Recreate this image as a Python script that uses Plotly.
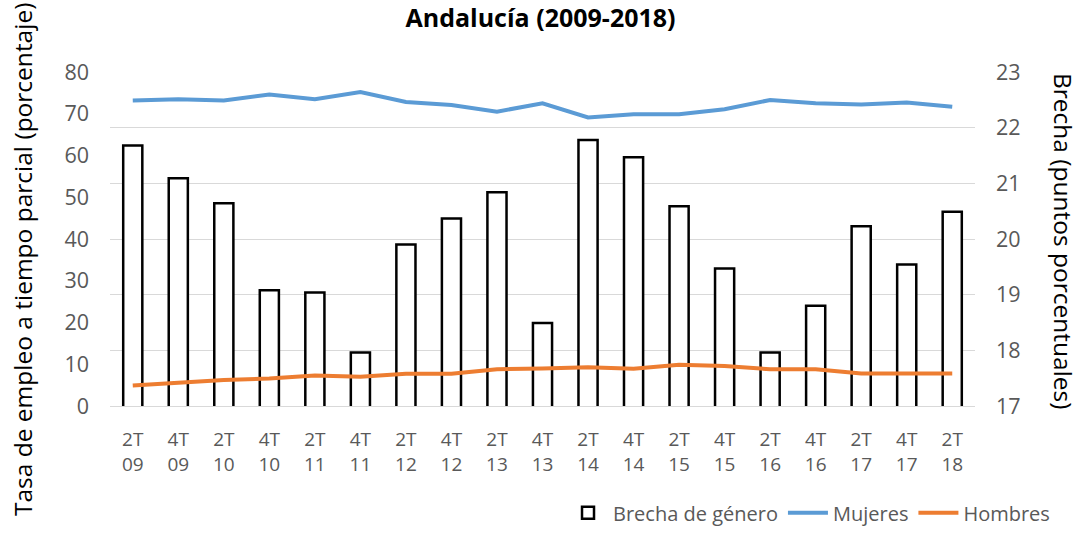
import plotly.graph_objects as go

categories = ["2T<br>09", "4T<br>09", "2T<br>10", "4T<br>10", "2T<br>11", "4T<br>11", "2T<br>12", "4T<br>12",
              "2T<br>13", "4T<br>13", "2T<br>14", "4T<br>14", "2T<br>15", "4T<br>15", "2T<br>16", "4T<br>16",
              "2T<br>17", "4T<br>17", "2T<br>18"]
brecha = [21.68, 21.09, 20.64, 19.08, 19.04, 17.96, 19.90, 20.37, 20.84, 18.49,
          21.78, 21.47, 20.59, 19.47, 17.96, 18.80, 20.23, 19.54, 20.49]
mujeres = [73.2, 73.5, 73.2, 74.6, 73.5, 75.2, 72.8, 72.1, 70.5, 72.5,
           69.1, 69.9, 69.9, 71.1, 73.3, 72.5, 72.2, 72.7, 71.7]
hombres = [4.9, 5.6, 6.2, 6.6, 7.3, 7.0, 7.7, 7.7, 8.8, 9.0,
           9.3, 8.9, 9.9, 9.6, 8.8, 8.8, 7.8, 7.8, 7.8]

FONT = "Open Sans"
GREY = "#595959"

fig = go.Figure()
fig.add_trace(go.Bar(x=categories, y=brecha, name="Brecha de género", yaxis="y",
                     marker=dict(color="white", line=dict(color="black", width=2.5)),
                     width=0.42))
fig.add_trace(go.Scatter(x=categories, y=mujeres, name="Mujeres", yaxis="y2", mode="lines",
                         line=dict(color="#5B9BD5", width=4)))
fig.add_trace(go.Scatter(x=categories, y=hombres, name="Hombres", yaxis="y2", mode="lines",
                         line=dict(color="#ED7D31", width=4)))

fig.update_layout(
    width=1081, height=535,
    margin=dict(l=110, r=106, t=72, b=129, autoexpand=False),
    paper_bgcolor="white", plot_bgcolor="white",
    font=dict(family=FONT, size=18, color=GREY),
    title=dict(text="<b>Andalucía (2009-2018)</b>", x=0.5, xanchor="center", y=0.965, yanchor="middle",
               font=dict(family=FONT, size=25, color="black")),
    showlegend=True,
    legend=dict(orientation="h", x=1.0925, xanchor="right", y=-0.378, yanchor="bottom",
                font=dict(size=20, color=GREY), bgcolor="rgba(0,0,0,0)", itemwidth=40),
    xaxis=dict(showgrid=False, showline=True, linecolor="#d9d9d9", linewidth=1, automargin=False,
               ticks="", tickfont=dict(family=FONT, size=19, color=GREY),
               ticklabelstandoff=16),
    yaxis=dict(side="right", range=[17, 23], dtick=1, showgrid=True, gridcolor="#d9d9d9",
               zeroline=False, showline=False, ticklabelstandoff=20, automargin=False,
               tickfont=dict(size=21.5, color=GREY)),
    yaxis2=dict(overlaying="y", side="left", range=[0, 80], dtick=10, showgrid=False,
                zeroline=False, showline=False, ticklabelstandoff=20, automargin=False,
                tickfont=dict(size=21.5, color=GREY)),
    annotations=[
        dict(text="Tasa de empleo a tiempo parcial (porcentaje)", xref="paper", yref="paper",
             x=-0.1017, y=0.437, xanchor="center", yanchor="middle", textangle=-90, showarrow=False,
             font=dict(size=24.5, color="black")),
        dict(text="Brecha (puntos porcentuales)", xref="paper", yref="paper",
             x=1.103, y=0.494, xanchor="center", yanchor="middle", textangle=90, showarrow=False,
             font=dict(size=24.5, color="black")),
    ],
)

fig.write_html("out.html", config={"displayModeBar": False},
               post_script="document.body.style.margin='0';")
